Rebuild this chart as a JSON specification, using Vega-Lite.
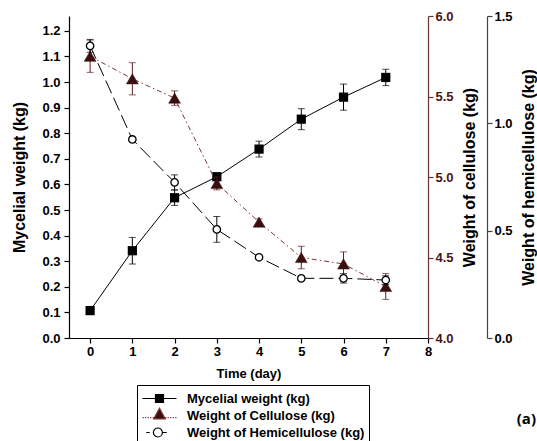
{
  "$schema": "https://vega.github.io/schema/vega-lite/v6.json",
  "width": 359,
  "height": 322,
  "autosize": {"type": "none"},
  "padding": {"left": 69, "top": 16, "right": 109, "bottom": 103},
  "background": "white",
  "config": {
    "view": {"stroke": null},
    "font": "Liberation Sans",
    "axis": {
      "grid": false,
      "labelFont": "Liberation Sans",
      "labelFontWeight": "bold",
      "labelFontSize": 13,
      "labelColor": "black",
      "titleFont": "Liberation Sans",
      "titleFontWeight": "bold",
      "titleColor": "black",
      "domainColor": "black",
      "tickColor": "black",
      "tickSize": 5,
      "domainWidth": 1.2,
      "tickWidth": 1.2
    },
    "legend": {
      "title": null,
      "orient": "none",
      "legendX": 68,
      "legendY": 369,
      "direction": "vertical",
      "strokeColor": "black",
      "fillColor": "white",
      "padding": 4,
      "symbolSize": 289,
      "symbolOffset": 9,
      "labelOffset": 18,
      "labelFont": "Liberation Sans",
      "labelFontWeight": "bold",
      "labelFontSize": 13,
      "labelColor": "black",
      "labelLimit": 300,
      "rowPadding": -2.5,
      "symbolStrokeWidth": 1.2
    }
  },
  "title": {
    "text": "(a)",
    "orient": "bottom",
    "anchor": "end",
    "frame": "group",
    "dx": 108,
    "offset": 0,
    "dy": -33,
    "font": "Open Sans",
    "fontWeight": "bold",
    "fontSize": 15,
    "color": "black"
  },
  "datasets": {
    "d": [
      {"series": "Mycelial weight (kg)", "day": 0, "value": 0.107, "lo": 0.095, "hi": 0.119},
      {"series": "Mycelial weight (kg)", "day": 1, "value": 0.341, "lo": 0.289, "hi": 0.393},
      {"series": "Mycelial weight (kg)", "day": 2, "value": 0.548, "lo": 0.518, "hi": 0.578},
      {"series": "Mycelial weight (kg)", "day": 3, "value": 0.63, "lo": 0.615, "hi": 0.645},
      {"series": "Mycelial weight (kg)", "day": 4, "value": 0.738, "lo": 0.707, "hi": 0.769},
      {"series": "Mycelial weight (kg)", "day": 5, "value": 0.855, "lo": 0.814, "hi": 0.896},
      {"series": "Mycelial weight (kg)", "day": 6, "value": 0.941, "lo": 0.89, "hi": 0.992},
      {"series": "Mycelial weight (kg)", "day": 7, "value": 1.018, "lo": 0.986, "hi": 1.05},
      {"series": "Weight of Cellulose (kg)", "day": 0, "value": 5.75, "lo": 5.65, "hi": 5.85},
      {"series": "Weight of Cellulose (kg)", "day": 1, "value": 5.61, "lo": 5.51, "hi": 5.71},
      {"series": "Weight of Cellulose (kg)", "day": 2, "value": 5.49, "lo": 5.445, "hi": 5.535},
      {"series": "Weight of Cellulose (kg)", "day": 3, "value": 4.96, "lo": 4.92, "hi": 5.0},
      {"series": "Weight of Cellulose (kg)", "day": 4, "value": 4.72, "lo": 4.7, "hi": 4.74},
      {"series": "Weight of Cellulose (kg)", "day": 5, "value": 4.5, "lo": 4.43, "hi": 4.57},
      {"series": "Weight of Cellulose (kg)", "day": 6, "value": 4.46, "lo": 4.385, "hi": 4.535},
      {"series": "Weight of Cellulose (kg)", "day": 7, "value": 4.32, "lo": 4.24, "hi": 4.4},
      {"series": "Weight of Hemicellulose (kg)", "day": 0, "value": 1.361, "lo": 1.331, "hi": 1.391},
      {"series": "Weight of Hemicellulose (kg)", "day": 1, "value": 0.925, "lo": 0.915, "hi": 0.935},
      {"series": "Weight of Hemicellulose (kg)", "day": 2, "value": 0.725, "lo": 0.69, "hi": 0.76},
      {"series": "Weight of Hemicellulose (kg)", "day": 3, "value": 0.506, "lo": 0.446, "hi": 0.566},
      {"series": "Weight of Hemicellulose (kg)", "day": 4, "value": 0.376, "lo": 0.366, "hi": 0.386},
      {"series": "Weight of Hemicellulose (kg)", "day": 5, "value": 0.278, "lo": 0.268, "hi": 0.288},
      {"series": "Weight of Hemicellulose (kg)", "day": 6, "value": 0.278, "lo": 0.256, "hi": 0.3},
      {"series": "Weight of Hemicellulose (kg)", "day": 7, "value": 0.27, "lo": 0.25, "hi": 0.29}
    ]
  },
  "data": {"name": "d"},
  "encoding": {
    "x": {
      "field": "day",
      "type": "quantitative",
      "scale": {"domain": [-0.5, 8], "nice": false, "zero": false},
      "axis": {"values": [0, 1, 2, 3, 4, 5, 6, 7, 8], "format": "d", "title": "Time (day)", "titleFontSize": 13, "labelPadding": 2, "titlePadding": 9, "labelFlush": false}
    }
  },
  "layer": [
    {
      "transform": [{"filter": "datum.series == 'Mycelial weight (kg)'"}],
      "layer": [
        {
          "mark": {"type": "line", "color": "black", "strokeWidth": 1},
          "encoding": {
            "y": {"field": "value", "type": "quantitative", "scale": {"domain": [0, 1.258], "nice": false, "zero": false},
              "axis": {"orient": "left", "values": [0, 0.1, 0.2, 0.3, 0.4, 0.5, 0.6, 0.7, 0.8, 0.9, 1.0, 1.1, 1.2], "format": ".1f", "title": "Mycelial weight (kg)", "titleFontSize": 16, "titlePadding": 14, "labelPadding": 4}}
          }
        },
        {
          "mark": {"type": "errorbar", "color": "black", "ticks": {"size": 7, "thickness": 1}, "rule": {"strokeWidth": 1}},
          "encoding": {
            "y": {"field": "lo", "type": "quantitative", "scale": {"domain": [0, 1.258], "nice": false, "zero": false},
              "axis": {"orient": "left", "values": [0, 0.1, 0.2, 0.3, 0.4, 0.5, 0.6, 0.7, 0.8, 0.9, 1.0, 1.1, 1.2], "format": ".1f", "title": "Mycelial weight (kg)", "titleFontSize": 16, "titlePadding": 14, "labelPadding": 4}},
            "y2": {"field": "hi"}
          }
        },
        {
          "mark": {"type": "point", "shape": "square", "filled": true, "size": 85, "color": "black", "opacity": 1},
          "encoding": {
            "y": {"field": "value", "type": "quantitative", "scale": {"domain": [0, 1.258], "nice": false, "zero": false},
              "axis": {"orient": "left", "values": [0, 0.1, 0.2, 0.3, 0.4, 0.5, 0.6, 0.7, 0.8, 0.9, 1.0, 1.1, 1.2], "format": ".1f", "title": "Mycelial weight (kg)", "titleFontSize": 16, "titlePadding": 14, "labelPadding": 4}}
          }
        }
      ]
    },
    {
      "transform": [{"filter": "datum.series == 'Weight of Cellulose (kg)'"}],
      "layer": [
        {
          "mark": {"type": "line", "color": "#7a3636", "strokeWidth": 1, "strokeDash": [5, 3, 1.5, 3]},
          "encoding": {
            "y": {"field": "value", "type": "quantitative", "scale": {"domain": [4, 6], "nice": false, "zero": false},
              "axis": {"orient": "right", "values": [4, 4.5, 5, 5.5, 6], "format": ".1f", "title": "Weight of cellulose (kg)", "titleFontSize": 16, "titleAngle": 270, "titlePadding": 24, "labelPadding": 2, "domainColor": "#6b3333", "tickColor": "#6b3333", "labelColor": "#4a1414"}}
          }
        },
        {
          "mark": {"type": "errorbar", "color": "#5c2020", "ticks": {"size": 7, "thickness": 1}, "rule": {"strokeWidth": 1}},
          "encoding": {
            "y": {"field": "lo", "type": "quantitative", "scale": {"domain": [4, 6], "nice": false, "zero": false},
              "axis": {"orient": "right", "values": [4, 4.5, 5, 5.5, 6], "format": ".1f", "title": "Weight of cellulose (kg)", "titleFontSize": 16, "titleAngle": 270, "titlePadding": 24, "labelPadding": 2, "domainColor": "#6b3333", "tickColor": "#6b3333", "labelColor": "#4a1414"}},
            "y2": {"field": "hi"}
          }
        },
        {
          "mark": {"type": "point", "shape": "triangle-up", "filled": true, "size": 140, "fill": "#3b0f0f", "stroke": "#3b0f0f", "strokeWidth": 0.5, "opacity": 1},
          "encoding": {
            "y": {"field": "value", "type": "quantitative", "scale": {"domain": [4, 6], "nice": false, "zero": false},
              "axis": {"orient": "right", "values": [4, 4.5, 5, 5.5, 6], "format": ".1f", "title": "Weight of cellulose (kg)", "titleFontSize": 16, "titleAngle": 270, "titlePadding": 24, "labelPadding": 2, "domainColor": "#6b3333", "tickColor": "#6b3333", "labelColor": "#4a1414"}}
          }
        }
      ]
    },
    {
      "transform": [{"filter": "datum.series == 'Weight of Hemicellulose (kg)'"}],
      "layer": [
        {
          "mark": {"type": "line", "color": "black", "strokeWidth": 1, "strokeDash": [14, 5]},
          "encoding": {
            "y": {"field": "value", "type": "quantitative", "scale": {"domain": [0, 1.5], "nice": false, "zero": false},
              "axis": {"orient": "right", "offset": 59, "values": [0, 0.5, 1, 1.5], "format": ".1f", "title": "Weight of hemicellulose (kg)", "titleFontSize": 16, "titleAngle": 270, "titlePadding": 24, "labelPadding": 2, "domainColor": "#444444", "tickColor": "#444444"}}
          }
        },
        {
          "mark": {"type": "errorbar", "color": "black", "ticks": {"size": 7, "thickness": 1}, "rule": {"strokeWidth": 1}},
          "encoding": {
            "y": {"field": "lo", "type": "quantitative", "scale": {"domain": [0, 1.5], "nice": false, "zero": false},
              "axis": {"orient": "right", "offset": 59, "values": [0, 0.5, 1, 1.5], "format": ".1f", "title": "Weight of hemicellulose (kg)", "titleFontSize": 16, "titleAngle": 270, "titlePadding": 24, "labelPadding": 2, "domainColor": "#444444", "tickColor": "#444444"}},
            "y2": {"field": "hi"}
          }
        },
        {
          "mark": {"type": "point", "shape": "circle", "filled": true, "size": 55, "fill": "white", "stroke": "black", "strokeWidth": 1.3, "opacity": 1},
          "encoding": {
            "y": {"field": "value", "type": "quantitative", "scale": {"domain": [0, 1.5], "nice": false, "zero": false},
              "axis": {"orient": "right", "offset": 59, "values": [0, 0.5, 1, 1.5], "format": ".1f", "title": "Weight of hemicellulose (kg)", "titleFontSize": 16, "titleAngle": 270, "titlePadding": 24, "labelPadding": 2, "domainColor": "#444444", "tickColor": "#444444"}}
          }
        }
      ]
    },
    {
      "transform": [{"filter": "datum.day > 100"}],
      "mark": {"type": "point", "filled": true, "opacity": 1, "size": 289},
      "encoding": {
        "x": {"value": 0},
        "shape": {"field": "series", "type": "nominal",
          "scale": {"domain": ["Mycelial weight (kg)", "Weight of Cellulose (kg)", "Weight of Hemicellulose (kg)"],
            "range": [
              "M-2,0H2M-0.47,-0.47H0.47V0.47H-0.47Z",
              "M-2,0.25H-1.85M-1.7,0.25H-1.55M-1.4,0.25H-1.25M-1.1,0.25H-0.95M-0.8,0.25H-0.65M0.65,0.25H0.8M0.95,0.25H1.1M1.25,0.25H1.4M1.55,0.25H1.7M1.85,0.25H2M0,-0.85L0.68,0.4H-0.68Z",
              "M-1.55,0H-1.15M-0.72,0A0.53,0.53 0 1,0 0.34,0A0.53,0.53 0 1,0 -0.72,0M0.34,0H0.85"
            ]}},
        "fill": {"field": "series", "type": "nominal",
          "scale": {"domain": ["Mycelial weight (kg)", "Weight of Cellulose (kg)", "Weight of Hemicellulose (kg)"], "range": ["black", "#3b0f0f", "white"]}},
        "stroke": {"field": "series", "type": "nominal",
          "scale": {"domain": ["Mycelial weight (kg)", "Weight of Cellulose (kg)", "Weight of Hemicellulose (kg)"], "range": ["black", "#7a3636", "black"]}}
      }
    }
  ],
  "resolve": {"scale": {"y": "independent"}}
}
